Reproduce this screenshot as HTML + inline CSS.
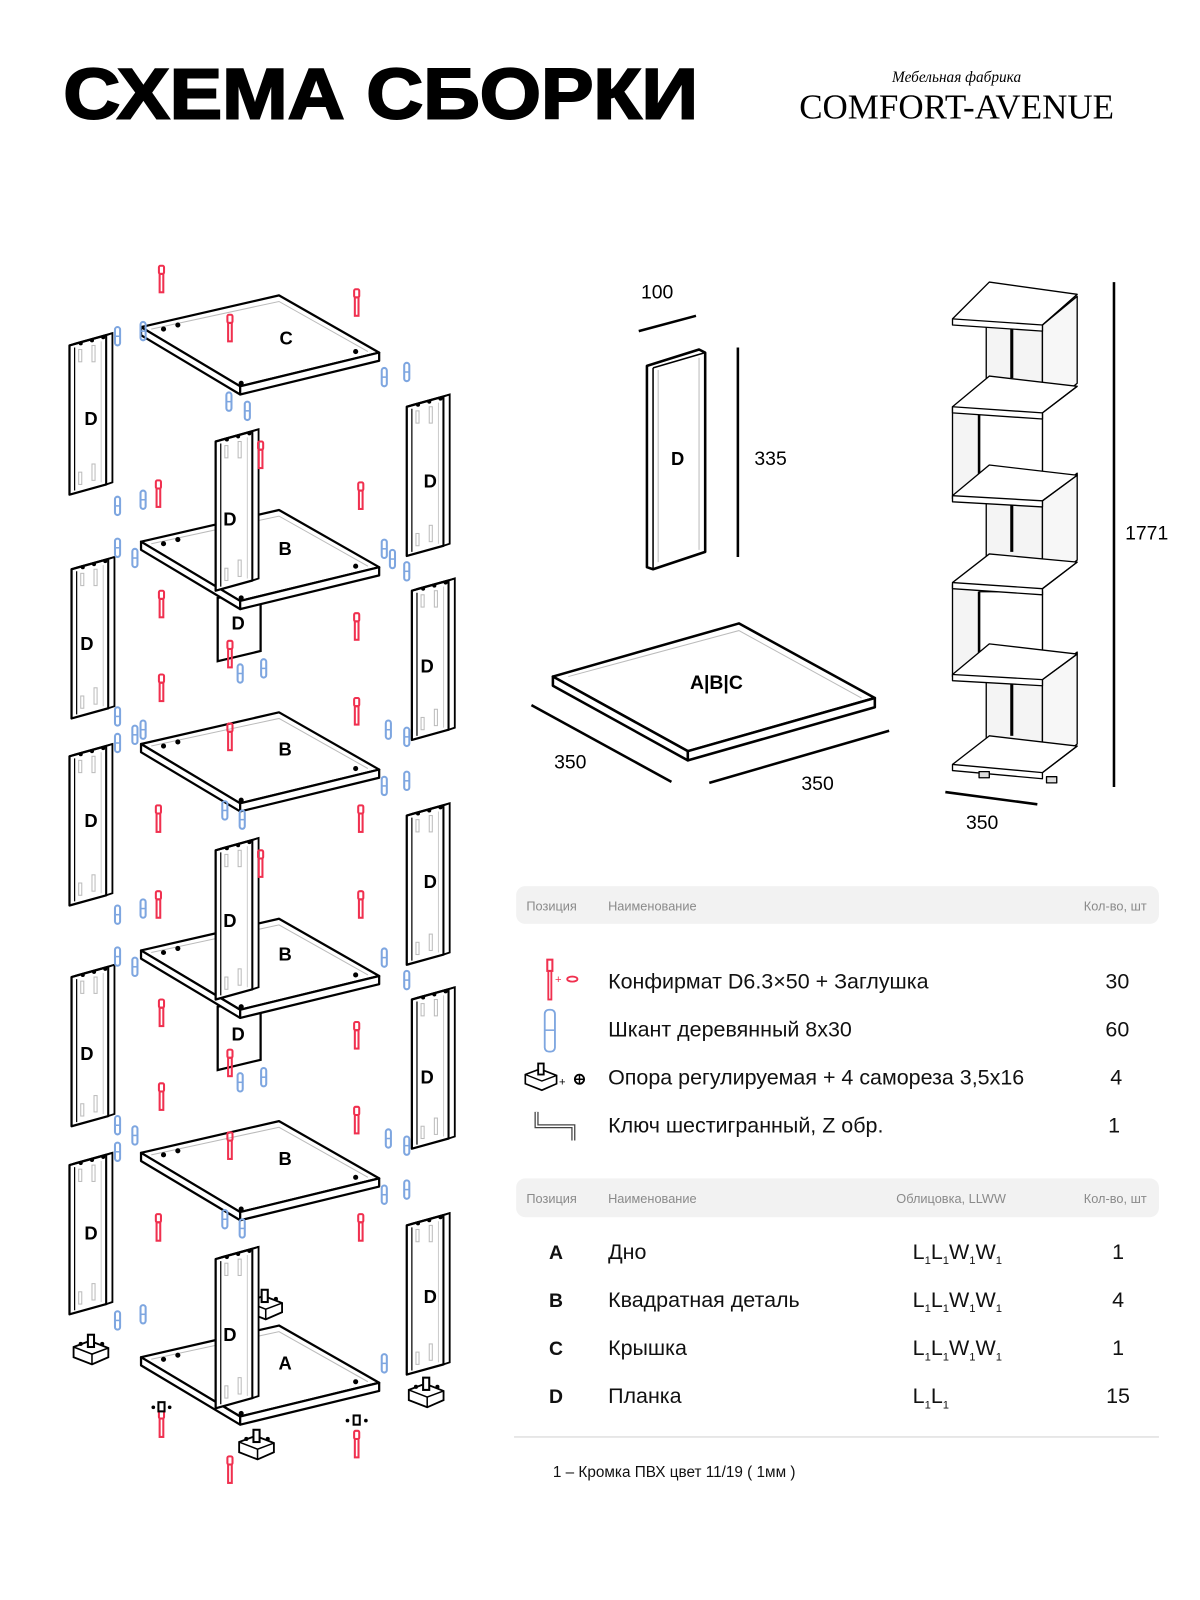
<!DOCTYPE html>
<html><head><meta charset="utf-8"><style>
html,body{margin:0;padding:0;background:#fff;}
svg{display:block;}
.s{font-family:"Liberation Sans","Noto Sans CJK SC",sans-serif;}
</style></head><body>
<svg width="1200" height="1600" viewBox="0 0 1200 1600" xmlns="http://www.w3.org/2000/svg" class="s">
<defs>
<g id="board">
  <polygon points="0,0 135,-31 233,25 97,58" fill="#fff" stroke="#000" stroke-width="2.2" stroke-linejoin="round"/>
  <polygon points="0,0 97,58 97,66 0,8" fill="#fff" stroke="#000" stroke-width="2.2" stroke-linejoin="round"/>
  <polygon points="97,58 233,25 233,33 97,66" fill="#fff" stroke="#000" stroke-width="2.2" stroke-linejoin="round"/>
  <polyline points="10,2 135,-25 222,24" fill="none" stroke="#bbb" stroke-width="1"/>
  <circle cx="22" cy="2" r="2.5"/><circle cx="36" cy="-2" r="2.5"/><circle cx="210" cy="24" r="2.5"/><circle cx="98" cy="55" r="2.5"/>
</g>
<g id="plank">
  <polygon points="0,12 36,2 36,148 0,158" fill="#fff" stroke="#000" stroke-width="2.2" stroke-linejoin="round"/>
  <polygon points="0,12 6,10 42,0 36,2" fill="#fff" stroke="#000" stroke-width="1.8"/>
  <polygon points="36,2 42,0 42,146 36,148" fill="#fff" stroke="#000" stroke-width="1.8"/>
  <line x1="5" y1="14" x2="5" y2="154" stroke="#000" stroke-width="1.2"/>
  <line x1="31" y1="8" x2="31" y2="146" stroke="#ccc" stroke-width="1"/>
  <rect x="9" y="16" width="3" height="12" fill="none" stroke="#bbb"/><rect x="22" y="12" width="3" height="16" fill="none" stroke="#bbb"/>
  <rect x="9" y="136" width="3" height="12" fill="none" stroke="#bbb"/><rect x="22" y="128" width="3" height="16" fill="none" stroke="#bbb"/>
  <circle cx="11" cy="10" r="2"/><circle cx="22" cy="7" r="2"/><circle cx="33" cy="4" r="2"/>
</g>
<g id="conf">
  <rect x="-2.5" y="0" width="5" height="8" rx="1.5" fill="none" stroke="#f0304f" stroke-width="2"/>
  <rect x="-1.8" y="8" width="3.6" height="18" fill="none" stroke="#f0304f" stroke-width="2"/>
</g>
<g id="dow">
  <rect x="-2.5" y="0" width="5" height="18" rx="2.5" fill="none" stroke="#7ea6e0" stroke-width="2"/>
  <line x1="-2.5" y1="9" x2="2.5" y2="9" stroke="#7ea6e0" stroke-width="1.5"/>
</g>
<g id="foot">
  <polygon points="0,6 16,0 34,7 34,16 18,23 0,16" fill="#fff" stroke="#000" stroke-width="1.8"/>
  <polyline points="0,6 18,13 34,7" fill="none" stroke="#000" stroke-width="1.5"/>
  <line x1="18" y1="13" x2="18" y2="23" stroke="#000" stroke-width="1.5"/>
  <rect x="14" y="-6" width="6" height="12" fill="#fff" stroke="#000" stroke-width="2"/>
  <circle cx="7" cy="3" r="2"/><circle cx="28" cy="3" r="2"/>
</g>
</defs>
<g transform="scale(1.022)">
<!-- Header -->
<text x="62" y="116" font-size="70" font-weight="bold" textLength="621" lengthAdjust="spacingAndGlyphs" stroke="#000" stroke-width="2">СХЕМА СБОРКИ</text>
<text x="936" y="80" font-family="Liberation Serif,serif" font-style="italic" font-size="15" text-anchor="middle">Мебельная фабрика</text>
<text x="782" y="116" font-family="Liberation Serif,serif" font-size="34" textLength="308" lengthAdjust="spacingAndGlyphs">COMFORT-AVENUE</text>

<!-- planks left column -->
<use href="#plank" x="68" y="326"/>
<use href="#plank" x="70" y="545"/>
<use href="#plank" x="68" y="728"/>
<use href="#plank" x="70" y="944"/>
<use href="#plank" x="68" y="1128"/>
<!-- right column -->
<use href="#plank" x="398" y="386"/>
<use href="#plank" x="403" y="566"/>
<use href="#plank" x="398" y="786"/>
<use href="#plank" x="403" y="966"/>
<use href="#plank" x="398" y="1187"/>

<use href="#board" x="138" y="320"/>
<polygon points="213,585 255,578 255,637 213,647" fill="#fff" stroke="#000" stroke-width="2.2"/>
<use href="#board" x="138" y="530"/>
<use href="#plank" x="211" y="420"/>
<use href="#board" x="138" y="728"/>
<polygon points="213,985 255,978 255,1037 213,1047" fill="#fff" stroke="#000" stroke-width="2.2"/>
<use href="#board" x="138" y="930"/>
<use href="#plank" x="211" y="820"/>
<use href="#board" x="138" y="1128"/>
<use href="#foot" x="242" y="1268"/>
<use href="#board" x="138" y="1328"/>
<use href="#plank" x="211" y="1220"/>

<use href="#foot" x="72" y="1312"/>
<use href="#foot" x="400" y="1354"/>
<use href="#foot" x="234" y="1405"/>

<use href="#conf" x="158" y="260"/><use href="#conf" x="349" y="283"/><use href="#conf" x="225" y="308"/>
<use href="#conf" x="255" y="432"/><use href="#conf" x="155" y="470"/><use href="#conf" x="353" y="472"/>
<use href="#conf" x="158" y="578"/><use href="#conf" x="349" y="600"/><use href="#conf" x="225" y="627"/>
<use href="#conf" x="158" y="660"/><use href="#conf" x="349" y="683"/><use href="#conf" x="225" y="708"/>
<use href="#conf" x="155" y="788"/><use href="#conf" x="353" y="788"/>
<use href="#conf" x="255" y="832"/><use href="#conf" x="155" y="872"/><use href="#conf" x="353" y="872"/>
<use href="#conf" x="158" y="978"/><use href="#conf" x="349" y="1000"/><use href="#conf" x="225" y="1027"/>
<use href="#conf" x="158" y="1060"/><use href="#conf" x="349" y="1083"/><use href="#conf" x="225" y="1108"/>
<use href="#conf" x="155" y="1188"/><use href="#conf" x="353" y="1188"/>
<use href="#conf" x="158" y="1380"/><use href="#conf" x="349" y="1400"/><use href="#conf" x="225" y="1425"/>
<circle cx="150" cy="1377" r="1.8"/><circle cx="166" cy="1377" r="1.8"/><circle cx="340" cy="1390" r="1.8"/><circle cx="358" cy="1390" r="1.8"/>
<rect x="155" y="1372" width="6" height="9" fill="#fff" stroke="#000" stroke-width="2"/>
<rect x="346" y="1385" width="6" height="9" fill="#fff" stroke="#000" stroke-width="2"/>

<use href="#dow" x="115" y="320"/><use href="#dow" x="140" y="315"/>
<use href="#dow" x="376" y="360"/><use href="#dow" x="398" y="355"/>
<use href="#dow" x="224" y="384"/><use href="#dow" x="242" y="393"/>
<use href="#dow" x="115" y="486"/><use href="#dow" x="140" y="480"/>
<use href="#dow" x="115" y="527"/><use href="#dow" x="132" y="537"/>
<use href="#dow" x="376" y="528"/><use href="#dow" x="384" y="538"/><use href="#dow" x="398" y="550"/>
<use href="#dow" x="235" y="650"/><use href="#dow" x="258" y="645"/>
<use href="#dow" x="115" y="692"/><use href="#dow" x="140" y="705"/>
<use href="#dow" x="115" y="718"/><use href="#dow" x="132" y="710"/>
<use href="#dow" x="380" y="705"/><use href="#dow" x="398" y="712"/>
<use href="#dow" x="376" y="760"/><use href="#dow" x="398" y="755"/>
<use href="#dow" x="220" y="784"/><use href="#dow" x="237" y="793"/>
<use href="#dow" x="115" y="886"/><use href="#dow" x="140" y="880"/>
<use href="#dow" x="115" y="927"/><use href="#dow" x="132" y="937"/>
<use href="#dow" x="376" y="928"/><use href="#dow" x="398" y="950"/>
<use href="#dow" x="235" y="1050"/><use href="#dow" x="258" y="1045"/>
<use href="#dow" x="115" y="1092"/><use href="#dow" x="132" y="1102"/>
<use href="#dow" x="115" y="1118"/><use href="#dow" x="380" y="1105"/><use href="#dow" x="398" y="1112"/>
<use href="#dow" x="376" y="1160"/><use href="#dow" x="398" y="1155"/>
<use href="#dow" x="220" y="1184"/><use href="#dow" x="237" y="1193"/>
<use href="#dow" x="115" y="1283"/><use href="#dow" x="140" y="1277"/>
<use href="#dow" x="376" y="1325"/>

<g font-size="18" font-weight="bold" text-anchor="middle">
<text x="280" y="337">C</text><text x="279" y="543">B</text><text x="279" y="739">B</text><text x="279" y="940">B</text><text x="279" y="1140">B</text><text x="279" y="1340">A</text>
<text x="89" y="416">D</text><text x="85" y="636">D</text><text x="89" y="809">D</text><text x="85" y="1037">D</text><text x="89" y="1213">D</text>
<text x="421" y="477">D</text><text x="418" y="658">D</text><text x="421" y="869">D</text><text x="418" y="1060">D</text><text x="421" y="1275">D</text>
<text x="225" y="514">D</text><text x="233" y="616">D</text><text x="225" y="907">D</text><text x="233" y="1018">D</text><text x="225" y="1312">D</text>
</g>

<text x="643" y="292" font-size="19" text-anchor="middle">100</text>
<line x1="625" y1="324" x2="681" y2="309" stroke="#000" stroke-width="2.5"/>
<polygon points="633,358 684,342 690,345 690,540 639,557 633,555" fill="#fff" stroke="#000" stroke-width="2.5" stroke-linejoin="round"/>
<polyline points="639,360 690,345" fill="none" stroke="#000" stroke-width="1.5"/>
<line x1="639" y1="360" x2="639" y2="556" stroke="#000" stroke-width="1.5"/>
<line x1="644" y1="362" x2="644" y2="550" stroke="#bbb"/><line x1="684" y1="350" x2="684" y2="538" stroke="#bbb"/>
<text x="663" y="455" font-size="18" font-weight="bold" text-anchor="middle">D</text>
<line x1="722" y1="340" x2="722" y2="545" stroke="#000" stroke-width="2.5"/>
<text x="754" y="455" font-size="19" text-anchor="middle">335</text>

<polygon points="541,662 723,610 856,683 673,735" fill="#fff" stroke="#000" stroke-width="2.5" stroke-linejoin="round"/>
<polygon points="541,662 673,735 673,744 541,671" fill="#fff" stroke="#000" stroke-width="2.5" stroke-linejoin="round"/>
<polygon points="673,735 856,683 856,692 673,744" fill="#fff" stroke="#000" stroke-width="2.5" stroke-linejoin="round"/>
<polyline points="556,662 723,617 843,683" fill="none" stroke="#bbb"/>
<text x="701" y="674" font-size="19" font-weight="bold" text-anchor="middle">A|B|C</text>
<line x1="520" y1="690" x2="657" y2="765" stroke="#000" stroke-width="2.5"/>
<text x="558" y="752" font-size="19" text-anchor="middle">350</text>
<line x1="694" y1="766" x2="870" y2="715" stroke="#000" stroke-width="2.5"/>
<text x="800" y="773" font-size="19" text-anchor="middle">350</text>

<!-- Tower -->
<g stroke="#000" stroke-width="1.3" fill="#fff" stroke-linejoin="round">
  <rect x="965" y="318" width="55" height="85" fill="#f4f4f4"/>
  <polygon points="1020,318 1054,290 1054,375 1020,403" fill="#f7f7f7"/>
  <line x1="990" y1="320" x2="990" y2="370" stroke-width="3"/>
  <rect x="932" y="398" width="88" height="90" fill="#f4f4f4"/>
  <rect x="958" y="405" width="62" height="80" fill="#fff"/>
  <line x1="958" y1="405" x2="958" y2="485" stroke-width="2.5"/>
  <rect x="965" y="490" width="55" height="85" fill="#f4f4f4"/>
  <polygon points="1020,490 1054,463 1054,548 1020,575" fill="#f7f7f7"/>
  <line x1="990" y1="492" x2="990" y2="540" stroke-width="3"/>
  <rect x="932" y="572" width="88" height="90" fill="#f4f4f4"/>
  <rect x="958" y="579" width="62" height="80" fill="#fff"/>
  <line x1="958" y1="579" x2="958" y2="659" stroke-width="2.5"/>
  <rect x="965" y="664" width="55" height="88" fill="#f4f4f4"/>
  <polygon points="1020,664 1054,638 1054,728 1020,754" fill="#f7f7f7"/>
  <line x1="990" y1="666" x2="990" y2="720" stroke-width="3"/>
  <polygon points="932,312 968,276 1054,288 1020,318 1020,324 932,318"/>
  <polyline points="932,312 1020,318 1054,288" fill="none"/>
  <polygon points="932,398 968,368 1054,378 1020,404 1020,410 932,404"/>
  <polyline points="932,398 1020,404 1054,378" fill="none"/>
  <polygon points="932,485 968,455 1054,465 1020,490 1020,496 932,491"/>
  <polyline points="932,485 1020,490 1054,465" fill="none"/>
  <polygon points="932,570 968,542 1054,550 1020,576 1020,582 932,576"/>
  <polyline points="932,570 1020,576 1054,550" fill="none"/>
  <polygon points="932,660 968,630 1054,640 1020,665 1020,671 932,666"/>
  <polyline points="932,660 1020,665 1054,640" fill="none"/>
  <polygon points="932,748 968,720 1054,730 1020,756 1020,762 932,754"/>
  <polyline points="932,748 1020,756 1054,730" fill="none"/>
  <rect x="958" y="755" width="10" height="6" fill="#ddd"/><rect x="1024" y="760" width="10" height="6" fill="#ddd"/>
</g>
<line x1="1090" y1="276" x2="1090" y2="770" stroke="#000" stroke-width="2.5"/>
<text x="1122" y="528" font-size="19" text-anchor="middle">1771</text>
<line x1="925" y1="775" x2="1015" y2="787" stroke="#000" stroke-width="2.5"/>
<text x="961" y="811" font-size="19" text-anchor="middle">350</text>

<!-- Table 1 -->
<rect x="505" y="867" width="629" height="37" rx="9" fill="#f2f2f2"/>
<g font-size="12.5" fill="#8a8a8a"><text x="515" y="891">Позиция</text><text x="595" y="891">Наименование</text><text x="1122" y="891" text-anchor="end">Кол-во, шт</text></g>
<g font-size="21" fill="#111">
<text x="595" y="967">Конфирмат D6.3×50 + Заглушка</text><text x="1105" y="967" text-anchor="end">30</text>
<text x="595" y="1014">Шкант деревянный 8х30</text><text x="1105" y="1014" text-anchor="end">60</text>
<text x="595" y="1061">Опора регулируемая + 4 самореза 3,5х16</text><text x="1098" y="1061" text-anchor="end">4</text>
<text x="595" y="1108">Ключ шестигранный, Z обр.</text><text x="1096" y="1108" text-anchor="end">1</text>
</g>
<rect x="535.5" y="939" width="5" height="11" fill="none" stroke="#f0304f" stroke-width="2"/>
<rect x="536.5" y="950" width="3" height="28" fill="none" stroke="#f0304f" stroke-width="1.8"/>
<text x="543" y="962" font-size="11" fill="#f0304f">+</text>
<ellipse cx="560" cy="958" rx="5" ry="2.5" fill="none" stroke="#f0304f" stroke-width="1.8"/>
<rect x="533" y="988" width="10" height="41" rx="4" fill="none" stroke="#7ea6e0" stroke-width="1.8"/>
<line x1="533" y1="1008" x2="543" y2="1008" stroke="#7ea6e0" stroke-width="1.5"/>
<g transform="translate(514,1046) scale(0.9)">
<polygon points="0,6 16,0 34,7 34,16 18,23 0,16" fill="#fff" stroke="#000" stroke-width="1.8"/>
<polyline points="0,6 18,13 34,7" fill="none" stroke="#000" stroke-width="1.5"/>
<rect x="14" y="-6" width="6" height="12" fill="#fff" stroke="#000" stroke-width="2"/>
</g>
<text x="547" y="1062" font-size="11">+</text>
<circle cx="567" cy="1056" r="4.5" fill="none" stroke="#000" stroke-width="1.8"/>
<path d="M563 1056h8M567 1052v8" stroke="#000" stroke-width="1.4"/>
<path d="M525 1088 v14 h36 v14" fill="none" stroke="#444" stroke-width="4"/>
<path d="M525 1088 v14 h36 v14" fill="none" stroke="#fff" stroke-width="1.5"/>

<!-- Table 2 -->
<rect x="505" y="1153" width="629" height="38" rx="9" fill="#f2f2f2"/>
<g font-size="12.5" fill="#8a8a8a"><text x="515" y="1177">Позиция</text><text x="595" y="1177">Наименование</text><text x="877" y="1177">Облицовка, LLWW</text><text x="1122" y="1177" text-anchor="end">Кол-во, шт</text></g>
<g font-size="21" fill="#111">
<text x="544" y="1232" font-weight="bold" font-size="19" text-anchor="middle">A</text><text x="595" y="1232">Дно</text>
<text x="1094" y="1232" text-anchor="middle">1</text>
<text x="544" y="1279" font-weight="bold" font-size="19" text-anchor="middle">B</text><text x="595" y="1279">Квадратная деталь</text>
<text x="1094" y="1279" text-anchor="middle">4</text>
<text x="544" y="1326" font-weight="bold" font-size="19" text-anchor="middle">C</text><text x="595" y="1326">Крышка</text>
<text x="1094" y="1326" text-anchor="middle">1</text>
<text x="544" y="1373" font-weight="bold" font-size="19" text-anchor="middle">D</text><text x="595" y="1373">Планка</text>
<text x="1094" y="1373" text-anchor="middle">15</text>
<text x="893" y="1232">L<tspan font-size="11" dy="5">1</tspan><tspan dy="-5">L</tspan><tspan font-size="11" dy="5">1</tspan><tspan dy="-5">W</tspan><tspan font-size="11" dy="5">1</tspan><tspan dy="-5">W</tspan><tspan font-size="11" dy="5">1</tspan></text>
<text x="893" y="1279">L<tspan font-size="11" dy="5">1</tspan><tspan dy="-5">L</tspan><tspan font-size="11" dy="5">1</tspan><tspan dy="-5">W</tspan><tspan font-size="11" dy="5">1</tspan><tspan dy="-5">W</tspan><tspan font-size="11" dy="5">1</tspan></text>
<text x="893" y="1326">L<tspan font-size="11" dy="5">1</tspan><tspan dy="-5">L</tspan><tspan font-size="11" dy="5">1</tspan><tspan dy="-5">W</tspan><tspan font-size="11" dy="5">1</tspan><tspan dy="-5">W</tspan><tspan font-size="11" dy="5">1</tspan></text>
<text x="893" y="1373">L<tspan font-size="11" dy="5">1</tspan><tspan dy="-5">L</tspan><tspan font-size="11" dy="5">1</tspan></text>
</g>
<line x1="503" y1="1406" x2="1134" y2="1406" stroke="#e2e2e2" stroke-width="1.5"/>
<text x="541" y="1445" font-size="15" fill="#111">1 – Кромка ПВХ цвет 11/19 ( 1мм )</text>
</g>
</svg>
</body></html>
